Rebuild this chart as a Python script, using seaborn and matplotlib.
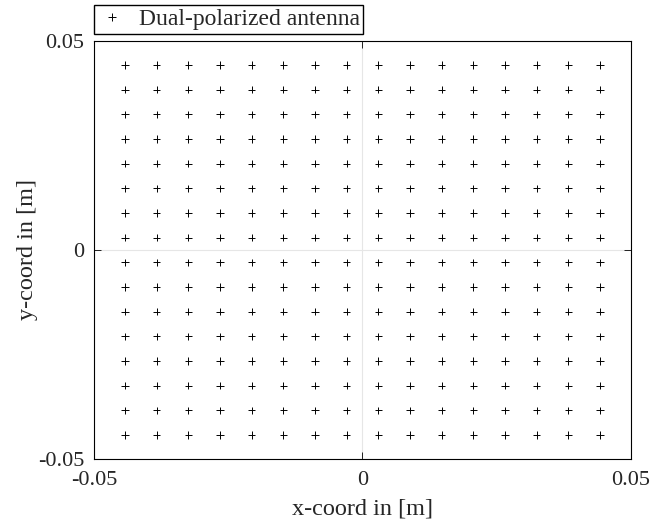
import numpy as np
import pandas as pd
import matplotlib
matplotlib.use('Agg')
import matplotlib.pyplot as plt
import seaborn as sns

# element positions of the 16x16 array (m)
x_pos = [-0.04425, -0.03835, -0.03245, -0.02655, -0.02065, -0.01475, -0.00885, -0.00295,
         0.00295, 0.00885, 0.01475, 0.02065, 0.02655, 0.03245, 0.03835, 0.04425]
y_pos = [-0.04425, -0.03835, -0.03245, -0.02655, -0.02065, -0.01475, -0.00885, -0.00295,
         0.00295, 0.00885, 0.01475, 0.02065, 0.02655, 0.03245, 0.03835, 0.04425]
ticks = [-0.05, 0, 0.05]
tick_labels = ['-0.05', '0', '0.05']

xx, yy = np.meshgrid(x_pos, y_pos)
df = pd.DataFrame({'x': xx.ravel(), 'y': yy.ravel(),
                   'kind': 'Dual-polarized antenna'})

sns.set_style('white')
plt.rcParams['font.family'] = ['Liberation Serif', 'DejaVu Serif']

fig = plt.figure(figsize=(6.66, 5.23), dpi=100)
ax = fig.add_axes([0.1411, 0.1224, 0.8063, 0.7992])

sns.scatterplot(data=df, x='x', y='y', hue='kind', palette=['black'],
                marker='+', s=28, linewidth=0.7, ax=ax, zorder=3)

ax.set_xlim(-0.05, 0.05)
ax.set_ylim(-0.05, 0.05)
ax.set_xticks(ticks)
ax.set_xticklabels(tick_labels)
ax.set_yticks(ticks)
ax.set_yticklabels(tick_labels)
ax.grid(True, color='#e6e6e6', linewidth=0.8, zorder=0)
ax.tick_params(direction='in', length=5, width=0.6, labelsize=16,
               top=True, right=True, bottom=True, left=True, color='black')
ax.tick_params(axis='x', pad=9)
ax.tick_params(axis='y', pad=7)
for sp in ax.spines.values():
    sp.set_color('black')
    sp.set_linewidth(0.8)

ax.set_xlabel('x-coord in [m]', fontsize=17.5, labelpad=6)
ax.set_ylabel('y-coord in [m]', fontsize=17.5, labelpad=0)

ax.legend(loc='lower left', bbox_to_anchor=(0.0, 1.017), borderaxespad=0,
          fancybox=False, edgecolor='black', framealpha=1, fontsize=17,
          handletextpad=0.55, borderpad=0.15, handlelength=1.2)

fig.savefig('out.png', dpi=100)
